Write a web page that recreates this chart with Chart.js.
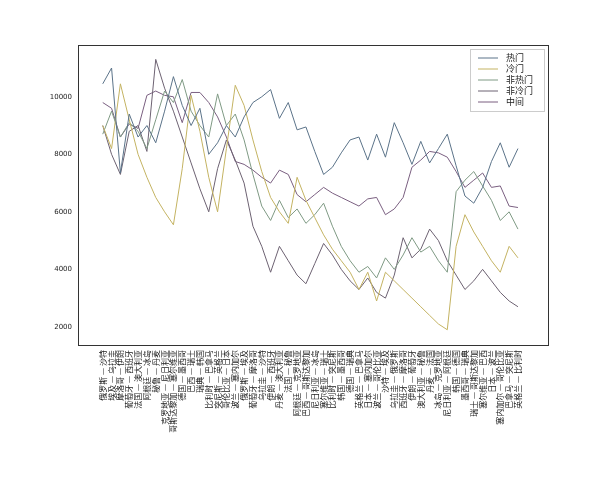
<!DOCTYPE html>
<html><head><meta charset="utf-8">
<script src="https://cdn.jsdelivr.net/npm/chart.js@4"></script>
<style>body{margin:0;background:#fff}#w{width:600px;height:480px}</style>
</head><body><div id="w"><canvas id="c"></canvas></div>
<script>
const matches = ["俄罗斯 — 沙特","埃及 — 乌拉圭","摩洛哥 — 伊朗","葡萄牙 — 西班牙","法国 — 澳大利亚","阿根廷 — 冰岛","秘鲁 — 丹麦","克罗地亚 — 尼日利亚","哥斯达黎加 — 塞尔维亚","德国 — 墨西哥","巴西 — 瑞士","瑞典 — 韩国","比利时 — 巴拿马","突尼斯 — 英格兰","哥伦比亚 — 日本","波兰 — 塞内加尔","俄罗斯 — 埃及","葡萄牙 — 摩洛哥","乌拉圭 — 沙特","伊朗 — 西班牙","丹麦 — 澳大利亚","法国 — 秘鲁","阿根廷 — 克罗地亚","巴西 — 哥斯达黎加","尼日利亚 — 冰岛","塞尔维亚 — 瑞士","比利时 — 突尼斯","韩国 — 墨西哥","德国 — 瑞典","英格兰 — 巴拿马","日本 — 塞内加尔","波兰 — 哥伦比亚","沙特 — 埃及","乌拉圭 — 俄罗斯","西班牙 — 摩洛哥","伊朗 — 葡萄牙","澳大利亚 — 秘鲁","丹麦 — 法国","冰岛 — 克罗地亚","尼日利亚 — 阿根廷","韩国 — 德国","墨西哥 — 瑞典","瑞士 — 哥斯达黎加","塞尔维亚 — 巴西","日本 — 波兰","塞内加尔 — 哥伦比亚","巴拿马 — 突尼斯","英格兰 — 比利时"];
const seriesNames = ["热门","冷门","非热门","非冷门","中间"];
const hot = [10450,11000,7350,9400,8600,9000,8400,9500,10700,9700,9000,9600,8000,8400,9000,8600,9300,9800,10000,10250,9250,9800,8850,8950,8100,7300,7550,8050,8500,8600,7800,8700,7900,9100,8400,7650,8450,7700,8200,8700,7600,6550,6300,6850,7750,8400,7550,8200];
const cold = [9000,8200,10450,9200,8000,7200,6500,6000,5550,7500,10050,8800,7200,6000,8200,10400,9700,8500,7400,6500,6000,5600,7200,6400,5800,5200,4700,4300,3900,3300,3900,2900,3900,3600,3300,3000,2700,2400,2100,1900,4800,5900,5300,4800,4300,3900,4800,4400];
const nonHot = [8700,9500,8600,9100,8800,8200,9200,10200,9800,10600,9500,9000,8600,10100,9000,9400,8500,7300,6200,5700,6400,5800,6100,5600,5900,6300,5500,4800,4300,3900,4100,3700,4400,4000,4500,5100,4600,4800,4300,3900,6700,7100,7400,6900,6400,5700,6000,5400];
const nonCold = [9000,8000,7300,8800,9000,8100,11300,10300,9500,8600,7700,6800,6000,7500,8500,7800,7000,5500,4800,3900,4800,4300,3800,3500,4200,4900,4500,4000,3600,3300,3700,3200,3000,3800,5100,4400,4700,5400,5000,4300,3800,3300,3600,4000,3600,3200,2900,2700];
const middle = [9800,9600,8600,9050,8900,10050,10200,10050,10000,9100,10150,10150,9800,9300,8600,7750,7650,7450,7200,7000,7450,7300,6600,6350,6600,6850,6650,6500,6350,6200,6450,6500,5900,6100,6500,7550,7800,8100,8050,7900,7400,6850,7100,7350,6850,6900,6200,6150];
const yTicks = [2000,4000,6000,8000,10000];

const colors = ['#5b7389','#c4b362','#7f9a84','#6d6272','#7a5f80'];
const all = [hot,cold,nonHot,nonCold,middle];
const datasets = all.map((arr,k)=>({label:seriesNames[k],data:arr.map((v,i)=>({x:i,y:v})),borderColor:colors[k],borderWidth:1,pointRadius:0,tension:0,fill:false}));

const legendPlugin = {id:'lg',afterDraw(ch){
  const c=ch.ctx, a=ch.chartArea;
  c.save(); c.strokeStyle='#333'; c.lineWidth=1; c.strokeRect(a.left+0.5,a.top+0.5,a.right-a.left,a.bottom-a.top);
  const w=74,h=62,x=a.right-w-4,y=a.top+4;
  c.fillStyle='rgba(255,255,255,0.85)'; c.strokeStyle='#ccc';
  c.fillRect(x,y,w,h); c.strokeRect(x+0.5,y+0.5,w,h);
  c.font='9px "Noto Sans CJK SC"'; c.textBaseline='middle';
  seriesNames.forEach((n,k)=>{const yy=y+9+k*11; c.strokeStyle=colors[k]; c.beginPath(); c.moveTo(x+8,yy); c.lineTo(x+28,yy); c.stroke(); c.fillStyle='#222'; c.fillText(n,x+36,yy);});
  c.restore();
}};
new Chart(document.getElementById('c'),{type:'line',data:{datasets},
 options:{responsive:true,maintainAspectRatio:false,animation:false,
  layout:{padding:{left:0,right:52,top:45,bottom:0}},
  plugins:{legend:{display:false},tooltip:{enabled:false}},
  scales:{
   x:{type:'linear',min:-2.8,max:50.4,afterFit(s){s.height=135;},
      afterBuildTicks(s){s.ticks=matches.map((m,i)=>({value:i}));},
      grid:{display:false,drawTicks:true,tickLength:3,tickColor:'#333'},border:{color:'#333'},
      ticks:{autoSkip:false,maxRotation:90,minRotation:90,font:{size:8,family:'"Noto Sans CJK SC"'},color:'#222',padding:2,callback:(v)=>matches[v]}},
   y:{min:1370,max:11800,afterFit(s){s.width=78;},
      afterBuildTicks(s){s.ticks=yTicks.map(v=>({value:v}));},
      grid:{display:false,drawTicks:true,tickLength:3,tickColor:'#333'},border:{color:'#333'},
      ticks:{font:{size:7,family:'DejaVu Sans'},color:'#222',padding:3,callback:(v)=>String(v)}}
  }},plugins:[legendPlugin]});
</script></body></html>
